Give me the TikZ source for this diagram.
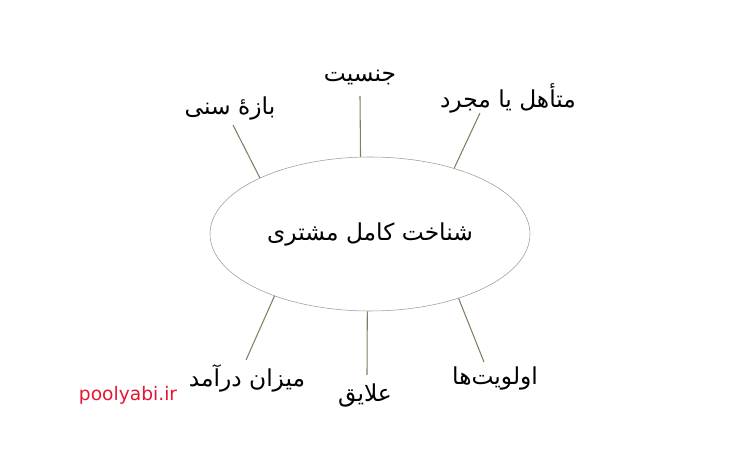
\documentclass[tikz,border=0pt]{standalone}
\usepackage{fontspec}
\setmainfont{DejaVu Sans}
\newfontfamily\arabicfont[Script=Arabic]{DejaVu Sans}
\TeXXeTstate=1
\usetikzlibrary{shapes.geometric}
\definecolor{spokeolive}{RGB}{128,128,96}
\definecolor{siteRed}{RGB}{228,22,52}
\tikzset{
  word/.style={font=\arabicfont\fontsize{17.5pt}{20pt}\selectfont, inner sep=1pt},
  spoke/.style={-, thick, draw=spokeolive}
}
\begin{document}
\begin{tikzpicture}[x=0.75pt,y=-0.75pt]
\useasboundingbox (0,0) rectangle (740,470);
\node[shape=ellipse, draw=gray!80, minimum width=240pt, minimum height=115.5pt, inner sep=0pt, word] (M) at (370,234) {\beginR شناخت کامل مشتری\endR};
\node[word] (age) at (230,108) {\beginR بازهٔ سنی\endR};
\node[word] (gender) at (360,78) {\beginR جنسیت\endR};
\node[word] (marital) at (508,98) {\beginR متأهل یا مجرد\endR};
\node[word] (income) at (247,378) {\beginR میزان درآمد\endR};
\node[word] (interest) at (365,395) {\beginR علایق\endR};
\node[word] (priority) at (495,378) {\beginR اولویت‌ها\endR};
\node[text=siteRed, font=\fontsize{14pt}{16pt}\selectfont] (site) at (128,395) {poolyabi.ir};
\coordinate (a1) at (233,125);
\coordinate (g1) at (360,96);
\coordinate (m1) at (480,113);
\coordinate (i1) at (246,360);
\coordinate (t1) at (367,375);
\coordinate (p1) at (484,362);
\path [spoke] (M.153) edge (a1);
\path [spoke] (M.97) edge (g1);
\path [spoke] (M.38) edge (m1);
\path [spoke] (M.213) edge (i1);
\path [spoke] (M.268) edge (t1);
\path [spoke] (M.324) edge (p1);
\end{tikzpicture}
\end{document}
